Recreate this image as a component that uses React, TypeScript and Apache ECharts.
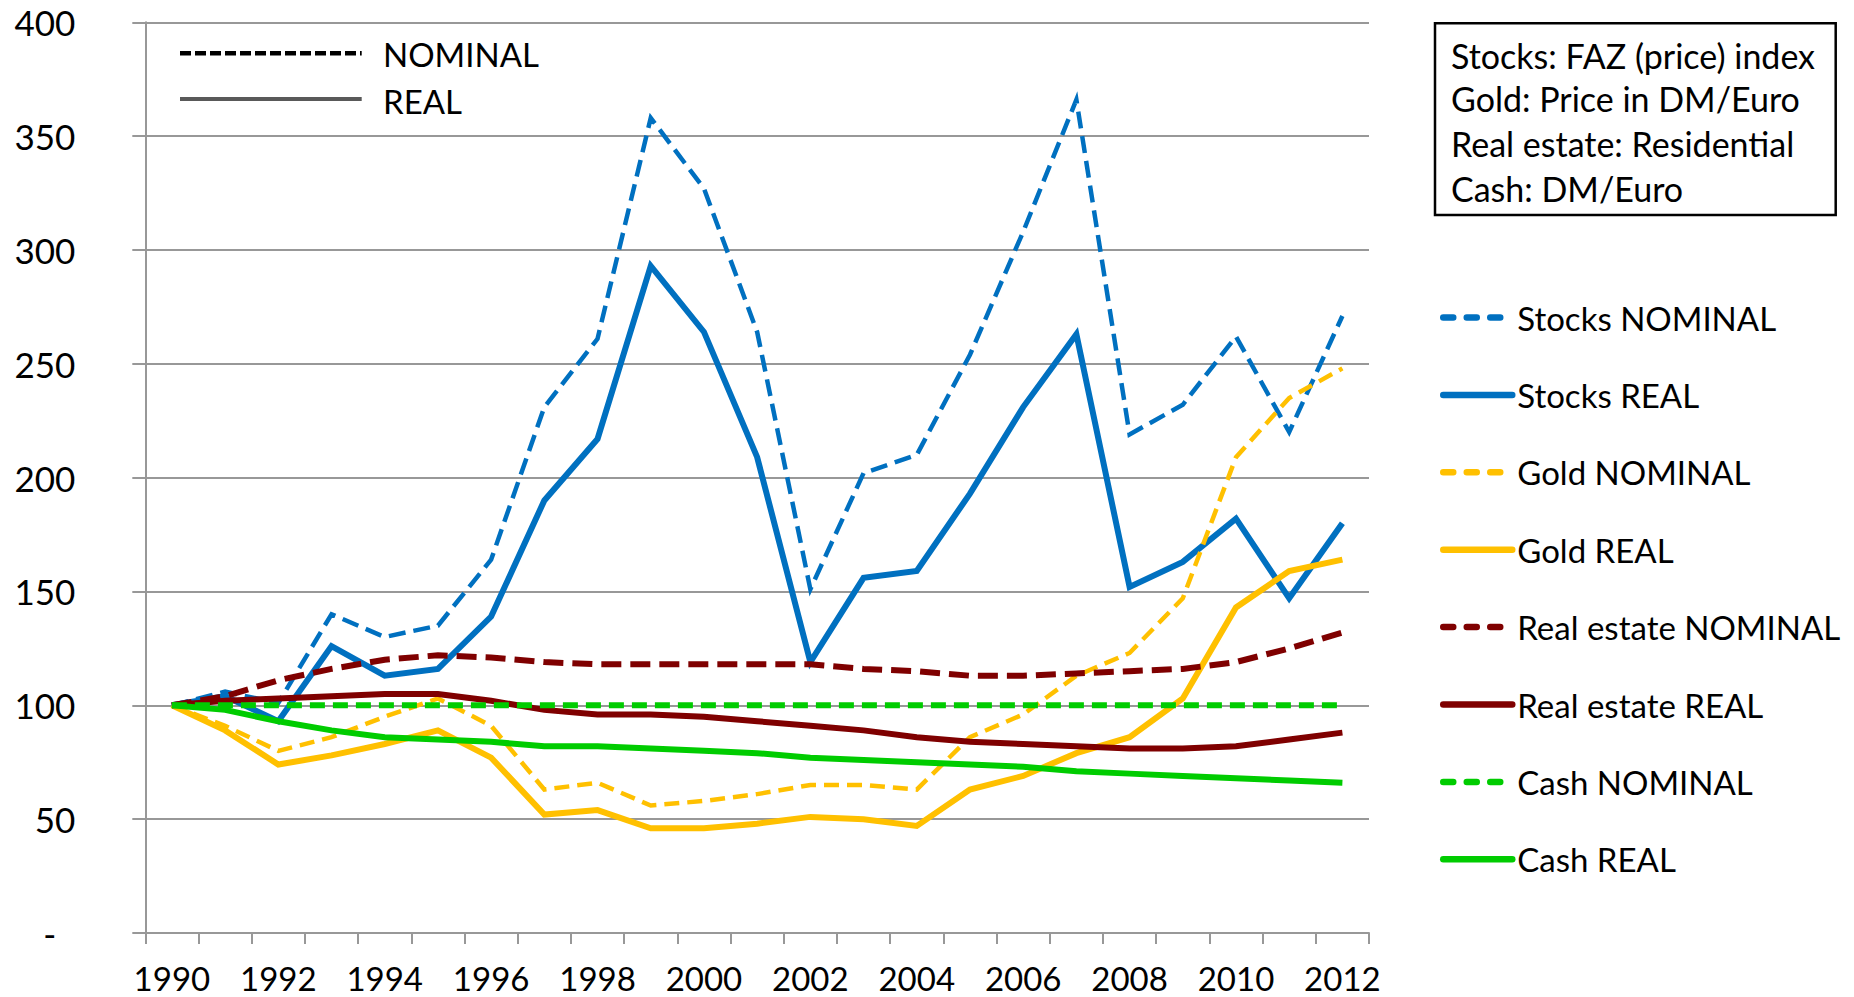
import React, { useEffect, useRef } from "react";
import * as echarts from "echarts";

const years = [
  "1990", "1991", "1992", "1993", "1994", "1995", "1996", "1997", "1998", "1999", "2000", "2001",
  "2002", "2003", "2004", "2005", "2006", "2007", "2008", "2009", "2010", "2011", "2012",
];

const stocksNominal = [100, 106, 101, 140, 130, 135, 164, 231, 261, 358, 327, 264, 151, 202, 210, 254, 308, 366, 219, 232, 262, 220, 271];
const stocksReal = [100, 104, 93, 126, 113, 116, 139, 190, 217, 293, 264, 209, 119, 156, 159, 193, 231, 263, 152, 163, 182, 147, 180];
const goldNominal = [100, 91, 80, 86, 95, 103, 91, 63, 66, 56, 58, 61, 65, 65, 63, 86, 96, 113, 123, 147, 209, 235, 248];
const goldReal = [100, 89, 74, 78, 83, 89, 77, 52, 54, 46, 46, 48, 51, 50, 47, 63, 69, 79, 86, 103, 143, 159, 164];
const realEstateNominal = [100, 104, 111, 116, 120, 122, 121, 119, 118, 118, 118, 118, 118, 116, 115, 113, 113, 114, 115, 116, 119, 125, 132];
const realEstateReal = [100, 102, 103, 104, 105, 105, 102, 98, 96, 96, 95, 93, 91, 89, 86, 84, 83, 82, 81, 81, 82, 85, 88];
const cashNominal = [100, 100, 100, 100, 100, 100, 100, 100, 100, 100, 100, 100, 100, 100, 100, 100, 100, 100, 100, 100, 100, 100, 100];
const cashReal = [100, 98, 93, 89, 86, 85, 84, 82, 82, 81, 80, 79, 77, 76, 75, 74, 73, 71, 70, 69, 68, 67, 66];

const seriesNames = [
  "Stocks NOMINAL", "Stocks REAL", "Gold NOMINAL", "Gold REAL",
  "Real estate NOMINAL", "Real estate REAL", "Cash NOMINAL", "Cash REAL",
];

const noteLines = [
  "Stocks: FAZ (price) index",
  "Gold: Price in DM/Euro",
  "Real estate: Residential",
  "Cash: DM/Euro",
];

const FONT = "Lato, 'Open Sans', sans-serif";
const BLUE = "#0070C0";
const GOLD = "#FFC000";
const RED = "#7F0000";
const GREEN = "#00CC00";
const GRID = "#989898";

export default function App() {
  const ref = useRef<HTMLDivElement>(null);

  useEffect(() => {
    if (!ref.current) return;
    const chart = echarts.init(ref.current, undefined, { renderer: "svg" });

    const mk = (name: string, data: number[], color: string, width: number, dash: number[] | null) => ({
      name,
      type: "line",
      data,
      symbol: "none",
      silent: true,
      emphasis: { disabled: true },
      lineStyle: {
        color,
        width,
        type: dash ? dash : "solid",
        join: "miter",
        cap: "butt",
      },
      itemStyle: { color },
    });

    const legendItem = (name: string, dashed: boolean) => ({
      name,
      lineStyle: dashed
        ? { width: 6.5, type: [10, 13.5], cap: "round" }
        : { width: 6.5, type: "solid", cap: "round" },
    });

    const option: any = {
      animation: false,
      backgroundColor: "#ffffff",
      grid: { left: 145.3, right: 485, top: 22.3, bottom: 64, containLabel: false },
      xAxis: {
        type: "category",
        data: years,
        boundaryGap: true,
        axisLine: { show: true, lineStyle: { color: GRID, width: 2 } },
        axisTick: { show: true, interval: 0, length: 11, lineStyle: { color: GRID, width: 2 } },
        axisLabel: { interval: 1, margin: 29.5, fontSize: 33, lineHeight: 30, color: "#000", fontFamily: FONT },
        splitLine: { show: false },
      },
      yAxis: {
        type: "value",
        min: 0,
        max: 400,
        interval: 50,
        axisLine: { show: true, lineStyle: { color: GRID, width: 2 } },
        axisTick: { show: true, length: 13, lineStyle: { color: GRID, width: 2 } },
        splitLine: { show: true, lineStyle: { color: GRID, width: 2 } },
        axisLabel: {
          margin: 70,
          fontSize: 35,
          lineHeight: 35,
          color: "#000",
          fontFamily: FONT,
          formatter: (v: number) => (v === 0 ? "{d|-}" : String(v)),
          rich: { d: { fontSize: 35, lineHeight: 35, fontFamily: FONT, color: "#000", padding: [0, 19, 0, 0] } },
        },
      },
      legend: {
        orient: "vertical",
        left: 1440,
        top: 301,
        padding: 0,
        itemWidth: 69,
        itemHeight: 14,
        itemGap: 44.4,
        selectedMode: false,
        itemStyle: { opacity: 0 },
        textStyle: { fontSize: 33, fontFamily: FONT, color: "#000", lineHeight: 32 },
        data: seriesNames.map((n, i) => legendItem(n, i % 2 === 0)),
      },
      series: [
        mk(seriesNames[0], stocksNominal, BLUE, 4.5, [17, 8]),
        mk(seriesNames[1], stocksReal, BLUE, 6, null),
        mk(seriesNames[2], goldNominal, GOLD, 4.5, [15, 8]),
        mk(seriesNames[3], goldReal, GOLD, 6, null),
        mk(seriesNames[4], realEstateNominal, RED, 6, [20, 9]),
        mk(seriesNames[5], realEstateReal, RED, 6, null),
        mk(seriesNames[6], cashNominal, GREEN, 6, [15, 8]),
        mk(seriesNames[7], cashReal, GREEN, 6, null),
      ],
      graphic: [
        {
          type: "rect",
          shape: { x: 1435, y: 23.3, width: 400.7, height: 191.7 },
          style: { fill: "#fff", stroke: "#000", lineWidth: 2.5 },
          z: 10,
        },
        ...noteLines.map((t, i) => ({
          type: "text",
          x: 1451,
          y: [55, 98.8, 143.3, 188.3][i],
          style: { text: t, fontSize: 34, fontFamily: FONT, fill: "#000", verticalAlign: "middle", align: "left" },
          z: 11,
        })),
        {
          type: "line",
          shape: { x1: 180, y1: 53.3, x2: 361.7, y2: 53.3 },
          style: { stroke: "#000", lineWidth: 4.5, lineDash: [11, 4] },
          z: 10,
        },
        {
          type: "line",
          shape: { x1: 180, y1: 99, x2: 361.7, y2: 99 },
          style: { stroke: "#595959", lineWidth: 4 },
          z: 10,
        },
        {
          type: "text",
          x: 383,
          y: 54.3,
          style: { text: "NOMINAL", fontSize: 33, fontFamily: FONT, fill: "#000", verticalAlign: "middle" },
          z: 10,
        },
        {
          type: "text",
          x: 383,
          y: 100.5,
          style: { text: "REAL", fontSize: 33, fontFamily: FONT, fill: "#000", verticalAlign: "middle" },
          z: 10,
        },
      ],
    };

    chart.setOption(option);
    return () => chart.dispose();
  }, []);

  return (
    <div
      ref={ref}
      style={{ position: "absolute", left: 0, top: 0, width: 1854, height: 997, background: "#fff" }}
    />
  );
}
